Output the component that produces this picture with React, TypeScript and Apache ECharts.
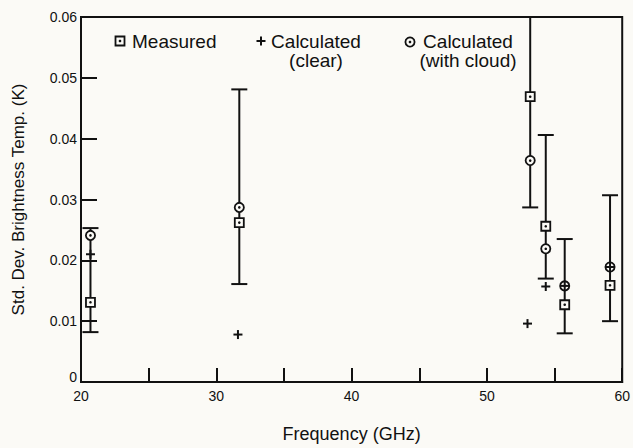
import React, { useEffect, useRef } from "react";
import * as echarts from "echarts";

// ---- data ----
const frequencies = [20.7, 31.7, 53.2, 54.35, 55.75, 59.1];
const measured = [0.0131, 0.0262, 0.0469, 0.0256, 0.0127, 0.0159];
const errorLow = [0.0082, 0.0161, 0.0287, 0.017, 0.008, 0.01];
const errorHigh = [0.0253, 0.0481, 0.065, 0.0406, 0.0235, 0.0307];
const clearFrequencies = [20.7, 31.6, 53.0, 54.35, 55.75, 59.1];
const calculatedClear = [0.021, 0.0078, 0.0096, 0.0157, 0.0158, 0.0189];
const calculatedCloud = [0.0241, 0.0287, 0.0364, 0.0219, 0.0158, 0.0189];
const xLabels = ["20", "30", "40", "50", "60"];

const BG = "#fbfaf6";
const INK = "#111111";
const FONT = "'Liberation Sans', Arial, Helvetica, sans-serif";

function squareMarker(cx: number, cy: number) {
  return [
    { type: "rect", shape: { x: cx - 4.5, y: cy - 4.5, width: 9, height: 9 }, style: { fill: BG, stroke: INK, lineWidth: 1.8 } },
    { type: "circle", shape: { cx, cy, r: 1.3 }, style: { fill: INK } },
  ];
}
function circleMarker(cx: number, cy: number) {
  return [
    { type: "circle", shape: { cx, cy, r: 4.6 }, style: { fill: BG, stroke: INK, lineWidth: 1.8 } },
    { type: "circle", shape: { cx, cy, r: 1.3 }, style: { fill: INK } },
  ];
}
function plusMarker(cx: number, cy: number) {
  return [
    { type: "line", shape: { x1: cx - 4.5, y1: cy, x2: cx + 4.5, y2: cy }, style: { stroke: INK, lineWidth: 2 } },
    { type: "line", shape: { x1: cx, y1: cy - 4.5, x2: cx, y2: cy + 4.5 }, style: { stroke: INK, lineWidth: 2 } },
  ];
}

export default function App() {
  const ref = useRef<HTMLDivElement>(null);
  useEffect(() => {
    if (!ref.current) return;
    const chart = echarts.init(ref.current, null, { renderer: "svg" });
    const legendText = (x: number, y: number, text: string, align: string) => ({
      type: "text",
      x,
      y,
      style: {
        text,
        fill: INK,
        font: `19px ${FONT}`,
        lineHeight: 19,
        textAlign: align,
        textVerticalAlign: "top",
      },
    });
    chart.setOption({
      animation: false,
      backgroundColor: BG,
      textStyle: { fontFamily: FONT, color: INK },
      grid: { left: 81, right: 6, top: 17, bottom: 61, show: true, borderColor: INK, borderWidth: 2, backgroundColor: BG },
      xAxis: {
        type: "value",
        min: 20,
        max: 60,
        interval: 5,
        name: "Frequency (GHz)",
        nameLocation: "middle",
        nameGap: 43,
        nameTextStyle: { fontSize: 18, color: INK, fontFamily: FONT },
        axisLine: { show: true, lineStyle: { color: INK, width: 2 } },
        axisTick: { show: true, inside: true, length: 14, lineStyle: { color: INK, width: 2 } },
        axisLabel: {
          fontSize: 14,
          color: INK,
          margin: 7,
          fontFamily: FONT,
          formatter: (v: number) => (xLabels.includes(String(v)) ? String(v) : ""),
        },
        splitLine: { show: false },
      },
      yAxis: {
        type: "value",
        min: 0,
        max: 0.06,
        interval: 0.01,
        name: "Std. Dev. Brightness Temp. (K)",
        nameLocation: "middle",
        nameGap: 54,
        nameTextStyle: { fontSize: 17, color: INK, fontFamily: FONT },
        axisLine: { show: true, lineStyle: { color: INK, width: 2 } },
        axisTick: { show: true, inside: true, length: 16, lineStyle: { color: INK, width: 2 } },
        axisLabel: {
          fontSize: 14,
          color: INK,
          margin: 4,
          fontFamily: FONT,
          formatter: (v: number) => (v === 0 ? "{z|0}" : v.toFixed(2)),
          rich: { z: { fontSize: 14, fontFamily: FONT, color: INK, padding: [0, 0, 10, 0] } },
        },
        splitLine: { show: false },
      },
      graphic: [
        { type: "group", children: squareMarker(120, 41) },
        legendText(132, 32, "Measured", "left"),
        { type: "group", children: plusMarker(261, 41) },
        legendText(316, 32, "Calculated\n(clear)", "center"),
        { type: "group", children: circleMarker(410, 42) },
        legendText(468, 32, "Calculated\n(with cloud)", "center"),
      ],
      series: [
        {
          name: "Error",
          type: "custom",
          clip: true,
          z: 1,
          data: frequencies.map((f, i) => [f, errorLow[i], errorHigh[i]]),
          encode: { x: 0, y: [1, 2] },
          renderItem: (_p: any, api: any) => {
            const x = api.value(0);
            const lo = api.coord([x, api.value(1)]);
            const hi = api.coord([x, api.value(2)]);
            const h = 8;
            return {
              type: "group",
              children: [
                { type: "line", shape: { x1: lo[0], y1: lo[1], x2: hi[0], y2: hi[1] }, style: { stroke: INK, lineWidth: 2 } },
                { type: "line", shape: { x1: lo[0] - h, y1: lo[1], x2: lo[0] + h, y2: lo[1] }, style: { stroke: INK, lineWidth: 2 } },
                { type: "line", shape: { x1: hi[0] - h, y1: hi[1], x2: hi[0] + h, y2: hi[1] }, style: { stroke: INK, lineWidth: 2 } },
              ],
            };
          },
        },
        {
          name: "Calculated (with cloud)",
          type: "custom",
          z: 2,
          data: frequencies.map((f, i) => [f, calculatedCloud[i]]),
          encode: { x: 0, y: 1 },
          renderItem: (_p: any, api: any) => {
            const p = api.coord([api.value(0), api.value(1)]);
            return { type: "group", children: circleMarker(p[0], p[1]) };
          },
        },
        {
          name: "Measured",
          type: "custom",
          z: 3,
          data: frequencies.map((f, i) => [f, measured[i]]),
          encode: { x: 0, y: 1 },
          renderItem: (_p: any, api: any) => {
            const p = api.coord([api.value(0), api.value(1)]);
            return { type: "group", children: squareMarker(p[0], p[1]) };
          },
        },
        {
          name: "Calculated (clear)",
          type: "custom",
          z: 4,
          data: clearFrequencies.map((f, i) => [f, calculatedClear[i]]),
          encode: { x: 0, y: 1 },
          renderItem: (_p: any, api: any) => {
            const p = api.coord([api.value(0), api.value(1)]);
            return { type: "group", children: plusMarker(p[0], p[1]) };
          },
        },
      ],
    });
    return () => chart.dispose();
  }, []);
  return (
    <div
      ref={ref}
      style={{ position: "fixed", left: 0, top: 0, width: 633, height: 448, background: BG }}
    />
  );
}
